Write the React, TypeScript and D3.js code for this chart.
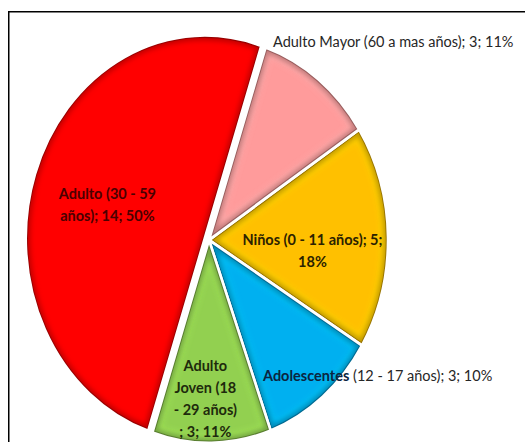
import React from "react";
import * as d3 from "d3";

const categories = [
  "Niños (0 - 11 años)",
  "Adolescentes (12 - 17 años)",
  "Adulto Joven (18 - 29 años)",
  "Adulto (30 - 59 años)",
  "Adulto Mayor (60 a mas años)",
];
const values = [5, 3, 3, 14, 3];
const percents = ["18%", "10%", "11%", "50%", "11%"];
const colors = ["#FFC000", "#00B0F0", "#92D050", "#FF0000", "#FF9B9B"];

const W = 525;
const H = 442;
const CX = 209;
const CY = 240;
const R = 179;
const SY = 1.134;
const START = (57 * Math.PI) / 180;
const EXPLODE = [0, 0, 0, 4.5, 0];

type LabelCfg = {
  rf: number;
  angleDeg?: number;
  anchor: "middle" | "start";
  lines: { parts: { t: string; bold: boolean; fill: string }[] }[];
};

export default function App() {
  const pie = d3
    .pie<number>()
    .sort(null)
    .value((d) => d)
    .startAngle(START)
    .endAngle(START + 2 * Math.PI);
  const arcs = pie(values);
  const arc = d3.arc<d3.PieArcDatum<number>>().innerRadius(0).outerRadius(R);

  const pointAt = (angle: number, r: number, off = 0, bis = 0) => {
    const ox = off * Math.sin(bis);
    const oy = -off * Math.cos(bis) * SY;
    return [CX + r * Math.sin(angle) + ox, CY - r * Math.cos(angle) * SY + oy];
  };

  const dark = "#262626";
  const labels: LabelCfg[] = [
    {
      rf: 0.58,
      angleDeg: 95,
      anchor: "middle",
      lines: [
        { parts: [{ t: `${categories[0]}; ${values[0]};`, bold: true, fill: "#2b2200" }] },
        { parts: [{ t: percents[0], bold: true, fill: "#2b2200" }] },
      ],
    },
    {
      rf: 0.73,
      angleDeg: 155.6,
      anchor: "start",
      lines: [
        {
          parts: [
            { t: "Adolescentes", bold: true, fill: "#0b2540" },
            { t: "  (12 - 17 años); " + values[1] + "; " + percents[1], bold: false, fill: dark },
          ],
        },
      ],
    },
    {
      rf: 0.78,
      angleDeg: 181.5,
      anchor: "middle",
      lines: [
        { parts: [{ t: "Adulto", bold: true, fill: "#1e2a0c" }] },
        { parts: [{ t: "Joven (18", bold: true, fill: "#1e2a0c" }] },
        { parts: [{ t: "- 29 años)", bold: true, fill: "#1e2a0c" }] },
        { parts: [{ t: `; ${values[2]}; ${percents[2]}`, bold: true, fill: "#1e2a0c" }] },
      ],
    },
    {
      rf: 0.57,
      angleDeg: 287.5,
      anchor: "middle",
      lines: [
        { parts: [{ t: "Adulto (30 - 59", bold: true, fill: "#4a0000" }] },
        { parts: [{ t: `años); ${values[3]}; ${percents[3]}`, bold: true, fill: "#4a0000" }] },
      ],
    },
    {
      rf: 1.045,
      angleDeg: 20,
      anchor: "start",
      lines: [
        { parts: [{ t: `${categories[4]}; ${values[4]}; ${percents[4]}`, bold: false, fill: dark }] },
      ],
    },
  ];

  const lineH = 22;

  return (
    <svg
      width={W}
      height={H}
      style={{ position: "absolute", left: 0, top: 0, background: "#fff" }}
      fontFamily="Lato, 'Open Sans', sans-serif"
    >
      <defs>
        <filter id="soft" x="-20%" y="-20%" width="140%" height="140%">
          <feGaussianBlur stdDeviation="2.5" />
        </filter>
        {arcs.map((a, i) => (
          <clipPath id={`clip-${i}`} key={i}>
            <path d={arc(a) || ""} />
          </clipPath>
        ))}
      </defs>
      <rect x={0} y={0} width={W} height={H} fill="#fff" />
      <path d={`M8.75,${H} V11.75 H${W}`} fill="none" stroke="#000" strokeWidth={1.5} />
      <g transform={`translate(${CX},${CY}) scale(1,${SY})`}>
        {arcs.map((a, i) => {
          const bis = (a.startAngle + a.endAngle) / 2;
          const ox = EXPLODE[i] * Math.sin(bis);
          const oy = -EXPLODE[i] * Math.cos(bis);
          const d = arc(a) || "";
          const dk = d3.color(colors[i])!.darker(1.6).formatHex();
          const lt = d3.color(colors[i])!.brighter(0.6).formatHex();
          return (
            <g key={i} transform={`translate(${ox},${oy})`}>
              <path d={d} fill={colors[i]} />
              <g clipPath={`url(#clip-${i})`}>
                <path d={d} fill="none" stroke={lt} strokeOpacity={0.35} strokeWidth={16} filter="url(#soft)" />
                <path d={d} fill="none" stroke={dk} strokeOpacity={0.55} strokeWidth={9} filter="url(#soft)" />
                <path d={d} fill="none" stroke={dk} strokeWidth={4.5} strokeOpacity={0.85} />
              </g>
              <path d={d} fill="none" stroke="#fff" strokeWidth={2.6} strokeLinejoin="round" />
            </g>
          );
        })}
      </g>
      {arcs.map((a, i) => {
        const cfg = labels[i];
        const bis = (a.startAngle + a.endAngle) / 2;
        const ang = cfg.angleDeg !== undefined ? (cfg.angleDeg * Math.PI) / 180 : bis;
        const [x, y] = pointAt(ang, cfg.rf * R, EXPLODE[i], bis);
        const n = cfg.lines.length;
        const y0 = y - ((n - 1) * lineH) / 2;
        return (
          <text key={i} x={x} y={y0} textAnchor={cfg.anchor} fontSize={14.5} dominantBaseline="central">
            {cfg.lines.map((ln, j) => (
              <tspan key={j} x={x} y={y0 + j * lineH}>
                {ln.parts.map((p, k) => (
                  <tspan key={k} fontWeight={p.bold ? 700 : 400} fill={p.fill}>
                    {p.t}
                  </tspan>
                ))}
              </tspan>
            ))}
          </text>
        );
      })}
    </svg>
  );
}
